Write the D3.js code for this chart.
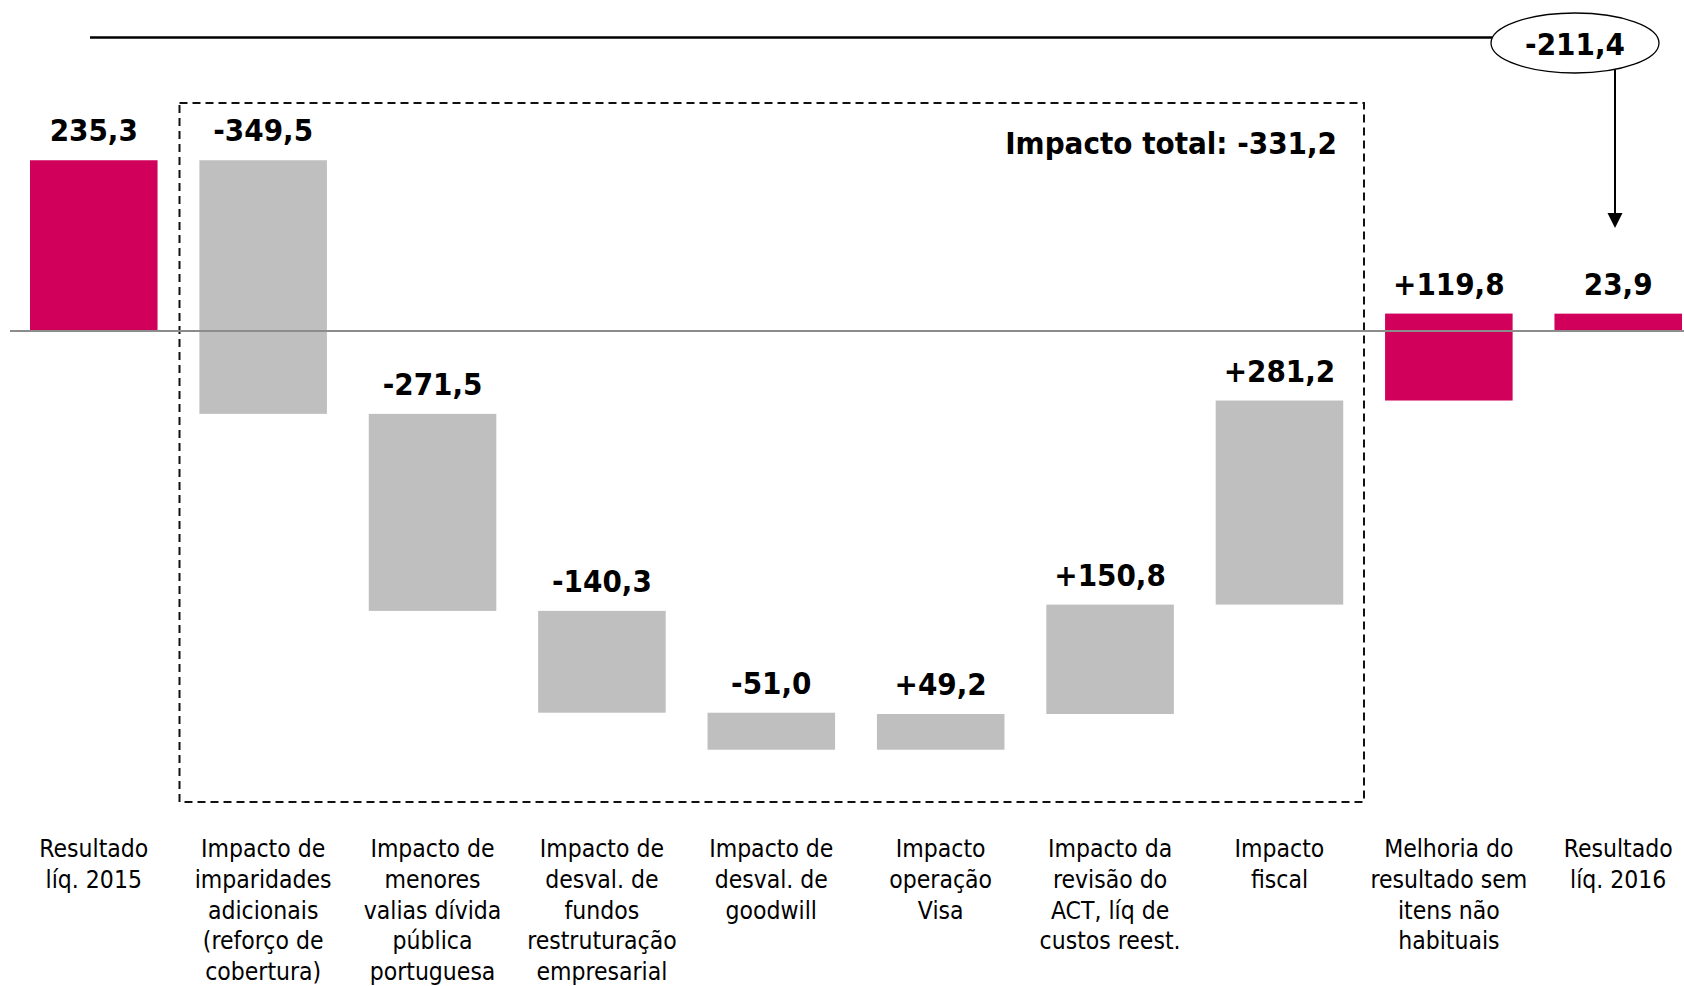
<!DOCTYPE html>
<html>
<head>
<meta charset="utf-8">
<script src="https://cdn.jsdelivr.net/npm/d3@7"></script>
<style>
  html, body { margin: 0; padding: 0; background: #fff; }
  svg { display: block; }
  .val { font-family: "DejaVu Sans Condensed", "DejaVu Sans", sans-serif; font-stretch: condensed; font-weight: bold; font-size: 31px; fill: #000; }
  .cat { font-family: "DejaVu Sans Condensed", "DejaVu Sans", sans-serif; font-stretch: condensed; font-size: 24.5px; fill: #000; }
</style>
</head>
<body>
<svg id="chart" width="1684" height="986"></svg>
<script>
// ---- data ----
const categories = [
  ["Resultado", "líq. 2015"],
  ["Impacto de", "imparidades", "adicionais", "(reforço de", "cobertura)"],
  ["Impacto de", "menores", "valias dívida", "pública", "portuguesa"],
  ["Impacto de", "desval. de", "fundos", "restruturação", "empresarial"],
  ["Impacto de", "desval. de", "goodwill"],
  ["Impacto", "operação", "Visa"],
  ["Impacto da", "revisão do", "ACT, líq de", "custos reest."],
  ["Impacto", "fiscal"],
  ["Melhoria do", "resultado sem", "itens não", "habituais"],
  ["Resultado", "líq. 2016"]
];
const values = [235.3, -349.5, -271.5, -140.3, -51.0, 49.2, 150.8, 281.2, 119.8, 23.9];
const kinds  = ["total", "delta", "delta", "delta", "delta", "delta", "delta", "delta", "deltaHighlight", "total"];
const valueLabels = ["235,3", "-349,5", "-271,5", "-140,3", "-51,0", "+49,2", "+150,8", "+281,2", "+119,8", "23,9"];
const totalImpactLabel = "Impacto total: -331,2";
const changeLabel = "-211,4";

// ---- layout ----
const svg = d3.select("#chart");
const x = d3.scaleBand().domain(d3.range(values.length)).range([30, 1682]).paddingInner(0.247).paddingOuter(0);
const y = d3.scaleLinear().domain([-600, 300]).range([766.4, 113.3]);

const PINK = "#d1005a", GREY = "#bfbfbf";

// compute waterfall segments
let run = 0;
const segs = values.map((v, i) => {
  let s, e;
  if (kinds[i] === "total") { s = 0; e = v; run = v; }
  else { s = run; e = run + v; run = e; }
  return { i, s, e, kind: kinds[i], label: valueLabels[i] };
});

// dashed box around the impacts
svg.append("rect")
  .attr("x", 179.5).attr("y", 103).attr("width", 1364 - 179.5).attr("height", 802 - 103)
  .attr("fill", "none").attr("stroke", "#111").attr("stroke-width", 2)
  .attr("stroke-dasharray", "8,5");

// bars
svg.selectAll("rect.bar").data(segs).join("rect")
  .attr("class", "bar")
  .attr("x", d => x(d.i))
  .attr("width", x.bandwidth())
  .attr("y", d => y(Math.max(d.s, d.e)))
  .attr("height", d => Math.abs(y(d.s) - y(d.e)))
  .attr("fill", d => d.kind === "delta" ? GREY : PINK);

// zero line
svg.append("line")
  .attr("x1", 10).attr("x2", 1684).attr("y1", y(0)).attr("y2", y(0))
  .attr("stroke", "#8c8c8c").attr("stroke-width", 2);

// value labels
svg.selectAll("text.val").data(segs).join("text")
  .attr("class", "val")
  .attr("text-anchor", "middle")
  .attr("x", d => x(d.i) + x.bandwidth() / 2)
  .attr("y", d => y(Math.max(d.s, d.e)) - 19)
  .text(d => d.label);

// category labels
const catG = svg.selectAll("text.cat").data(categories).join("text")
  .attr("class", "cat")
  .attr("text-anchor", "middle")
  .attr("x", (d, i) => x(i) + x.bandwidth() / 2)
  .attr("y", 857);
catG.selectAll("tspan").data((d, i) => d.map(t => ({ t, i }))).join("tspan")
  .attr("x", d => x(d.i) + x.bandwidth() / 2)
  .attr("dy", (d, j) => j === 0 ? 0 : 30.8)
  .text(d => d.t);

// total impact label
svg.append("text").attr("class", "val")
  .attr("text-anchor", "end").attr("x", 1337).attr("y", 154)
  .text(totalImpactLabel);

// top annotation: line, ellipse, arrow
const ecx = 1575, ecy = 43, erx = 84, ery = 30;
svg.append("line")
  .attr("x1", 90).attr("x2", 1492).attr("y1", 37.6).attr("y2", 37.6)
  .attr("stroke", "#000").attr("stroke-width", 2.5);
svg.append("ellipse")
  .attr("cx", ecx).attr("cy", ecy).attr("rx", erx).attr("ry", ery)
  .attr("fill", "#fff").attr("stroke", "#000").attr("stroke-width", 1.3);
svg.append("text").attr("class", "val")
  .attr("text-anchor", "middle").attr("x", ecx).attr("y", 55)
  .text(changeLabel);

const ax = 1615;
const ay0 = ecy + ery * Math.sqrt(1 - Math.pow((ax - ecx) / erx, 2));
const tipY = 228;
svg.append("line")
  .attr("x1", ax).attr("x2", ax).attr("y1", ay0).attr("y2", tipY - 14)
  .attr("stroke", "#000").attr("stroke-width", 2);
svg.append("path")
  .attr("d", `M${ax - 7.5},${tipY - 15} L${ax + 7.5},${tipY - 15} L${ax},${tipY} Z`)
  .attr("fill", "#000");
</script>
</body>
</html>
